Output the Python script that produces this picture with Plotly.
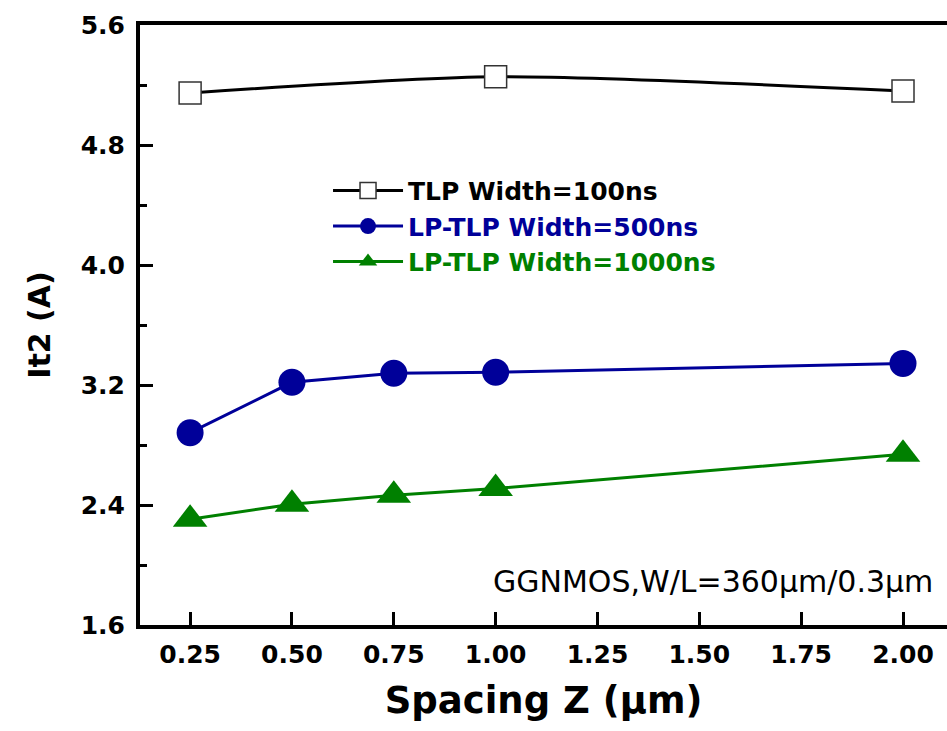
import plotly.graph_objects as go

# Data
spacing_tlp = [0.25, 1.00, 2.00]
it2_tlp = [5.147, 5.255, 5.160]

spacing_lp = [0.25, 0.50, 0.75, 1.00, 2.00]
it2_500 = [2.882, 3.218, 3.278, 3.285, 3.344]
it2_1000 = [2.305, 2.405, 2.465, 2.510, 2.738]

x_ticks = [0.25, 0.50, 0.75, 1.00, 1.25, 1.50, 1.75, 2.00]
x_tick_labels = ["0.25", "0.50", "0.75", "1.00", "1.25", "1.50", "1.75", "2.00"]
y_ticks = [1.6, 2.4, 3.2, 4.0, 4.8, 5.6]
y_tick_labels = ["1.6", "2.4", "3.2", "4.0", "4.8", "5.6"]

BLACK = "#000000"
BLUE = "#000099"
GREEN = "#008000"
FONT = "DejaVu Sans"

fig = go.Figure()
fig.add_trace(go.Scatter(
    x=spacing_tlp, y=it2_tlp, mode="lines+markers",
    name="<b>TLP Width=100ns</b>",
    line=dict(color=BLACK, width=3, shape="spline", smoothing=0.7),
    marker=dict(symbol="square", size=22, color="white",
                line=dict(color="#333333", width=1.5)),
))
fig.add_trace(go.Scatter(
    x=spacing_lp, y=it2_500, mode="lines+markers",
    name='<span style="color:#000099"><b>LP-TLP Width=500ns</b></span>',
    line=dict(color=BLUE, width=3),
    marker=dict(symbol="circle", size=27, color=BLUE),
))
fig.add_trace(go.Scatter(
    x=spacing_lp, y=it2_1000, mode="lines+markers",
    name='<span style="color:#008000"><b>LP-TLP Width=1000ns</b></span>',
    line=dict(color=GREEN, width=3),
    marker=dict(symbol="triangle-up", size=30, color=GREEN),
))

fig.add_annotation(
    x=0.985, y=0.072, xref="paper", yref="paper",
    xanchor="right", yanchor="middle", showarrow=False,
    text="GGNMOS,W/L=360μm/0.3μm",
    font=dict(family=FONT, size=30, color="black"),
)

fig.update_layout(
    width=947, height=731,
    margin=dict(l=140, r=0, t=25, b=106),
    paper_bgcolor="white", plot_bgcolor="white",
    font=dict(family=FONT, color="black"),
    showlegend=True,
    legend=dict(
        x=0.233, y=0.762, xanchor="left", yanchor="top",
        bgcolor="rgba(0,0,0,0)", borderwidth=0,
        font=dict(family=FONT, size=25, color="black"),
        itemwidth=70, tracegroupgap=0,
    ),
    xaxis=dict(
        range=[0.127, 2.108],
        tickmode="array", tickvals=x_ticks, ticktext=x_tick_labels,
        ticks="inside", ticklen=13, tickwidth=3, tickcolor="black",
        showline=True, linewidth=4, linecolor="black", mirror=True,
        showgrid=False, zeroline=False,
        tickfont=dict(family=FONT, size=25, color="black", weight="bold"),
        ticklabelstandoff=4,
        title=dict(text="<b>Spacing Z (μm)</b>",
                   font=dict(family=FONT, size=37, color="black"), standoff=20),
    ),
    yaxis=dict(
        range=[1.6, 5.6],
        tickmode="array", tickvals=y_ticks, ticktext=y_tick_labels,
        ticks="inside", ticklen=13, tickwidth=3, tickcolor="black",
        minor=dict(dtick=0.4, tick0=1.6, ticks="inside", ticklen=7,
                   tickwidth=3, tickcolor="black", showgrid=False),
        showline=True, linewidth=4, linecolor="black", mirror=False,
        showgrid=False, zeroline=False,
        tickfont=dict(family=FONT, size=25, color="black", weight="bold"),
        ticklabelstandoff=6,
        title=dict(text="<b>It2 (A)</b>",
                   font=dict(family=FONT, size=30, color="black"), standoff=22),
    ),
)

fig.write_html("out.html")
